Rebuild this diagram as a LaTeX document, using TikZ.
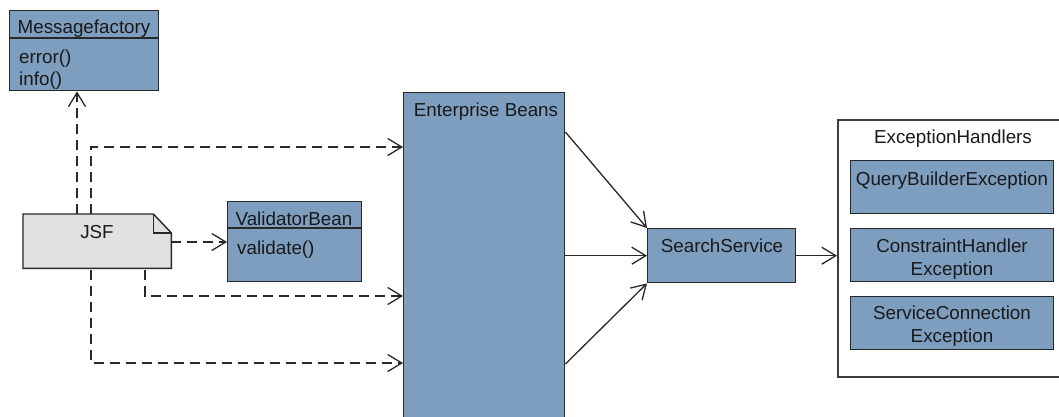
\documentclass[tikz,border=0pt]{standalone}
\usepackage{fontspec}
\setmainfont{Liberation Sans}
\usetikzlibrary{arrows.meta,calc}

\definecolor{beanblue}{RGB}{126,158,192}
\definecolor{notegray}{RGB}{225,225,225}
\definecolor{edge}{RGB}{40,40,40}
\definecolor{ink}{RGB}{25,25,25}

\tikzset{
  box/.style={draw=edge, line width=1.4pt, fill=beanblue, inner sep=0pt,
    anchor=north west, minimum width=#1},
  lbl/.style={font=\fontsize{18.8}{23}\selectfont, text=ink, inner sep=0pt, anchor=base},
  lbll/.style={lbl, anchor=base west},
  lblc/.style={font=\fontsize{18.8}{23}\selectfont, text=ink, inner sep=0pt, align=center},
  barb/.style={-{Straight Barb[length=14pt,width=17pt,line width=1.3pt]}},
  dep/.style={barb, draw=edge, line width=1.3pt, dash pattern=on 10pt off 6pt},
  assoc/.style={barb, draw=edge, line width=1.3pt},
}

\begin{document}
\begin{tikzpicture}[x=1pt,y=-1pt]
\useasboundingbox (0,0) rectangle (1059,416);
\clip (0,0) rectangle (1059,416);
\fill[white] (0,0) rectangle (1059,416);

% Messagefactory class
\node[box=149pt, minimum height=80pt] (mf) at (9,10) {};
\draw[edge, line width=1.4pt] ([yshift=-28pt]mf.north west) -- ([yshift=-28pt]mf.north east);
\node[lbl] (mft) at (84,33) {Messagefactory};
\node[lbll] (mf1) at (19,63) {error()};
\node[lbll] (mf2) at (19,85) {info()};

% ValidatorBean class
\node[box=134pt, minimum height=80pt] (vb) at (227,201) {};
\draw[edge, line width=1.4pt] ([yshift=-27pt]vb.north west) -- ([yshift=-27pt]vb.north east);
\node[lbl] (vbt) at (294,225) {ValidatorBean};
\node[lbll] (vb1) at (237,254) {validate()};

% JSF note with folded corner
\node[inner sep=0pt, minimum width=148pt, minimum height=54pt, anchor=north west] (jsf) at (23,214) {};
\filldraw[fill=notegray, draw=edge, line width=1.4pt]
  (jsf.north west) -- ([xshift=-18pt]jsf.north east) -- ([yshift=-19pt]jsf.north east)
  -- (jsf.south east) -- (jsf.south west) -- cycle;
\draw[edge, line width=1.4pt] ([xshift=-18pt]jsf.north east) -- ([xshift=-18pt,yshift=-19pt]jsf.north east)
  -- ([yshift=-19pt]jsf.north east);
\node[lbl] (jsft) at (97,238) {JSF};

% Enterprise Beans container
\node[box=161pt, minimum height=340pt] (eb) at (403,92) {};
\node[lbl] (ebt) at (486,116) {Enterprise Beans};

% SearchService
\node[box=148pt, minimum height=54pt] (ss) at (647,228) {};
\node[lbl] (sst) at (722,252) {SearchService};

% ExceptionHandlers package
\node[draw=edge!90, fill=white, line width=1.5pt, inner sep=0pt, anchor=north west,
  minimum width=240pt, minimum height=257pt] (eh) at (837,119) {};
\node[lbl] (eht) at (953,143) {ExceptionHandlers};
\node[box=203pt, minimum height=53pt] (qb) at (850,160) {};
\node[lbl] (qbt) at (952,185) {QueryBuilderException};
\node[box=203pt, minimum height=53pt] (ch) at (850,228) {};
\node[lblc] (cht) at (952,258.7) {ConstraintHandler\\Exception};
\node[box=203pt, minimum height=53pt] (sc) at (850,296) {};
\node[lblc] (sct) at (952,326.6) {ServiceConnection\\Exception};

% dependencies of JSF
\draw[dep] ([xshift=54pt]jsf.north west) -- ([xshift=68pt]mf.south west);
\draw[dep] ([xshift=68pt]jsf.north west) |- ([yshift=-55pt]eb.north west);
\draw[dep] ([yshift=-28pt]jsf.north east) coordinate (jv) -- (jv -| vb.west);
\draw[dep] ([xshift=122pt,yshift=-2pt]jsf.south west) |- ([yshift=-204pt]eb.north west);
\draw[dep] ([xshift=68pt,yshift=-2pt]jsf.south west) |- ([yshift=-271pt]eb.north west);

% associations towards SearchService and the handlers
\draw[assoc] ([yshift=-40pt]eb.north east) -- (ss.north west);
\draw[assoc] (eb.east |- ss.west) -- (ss.west);
\draw[assoc] ([yshift=-272pt]eb.north east) -- (ss.south west);
\draw[assoc] (ss.east) -- (ss.east -| eh.west);
\end{tikzpicture}
\end{document}
